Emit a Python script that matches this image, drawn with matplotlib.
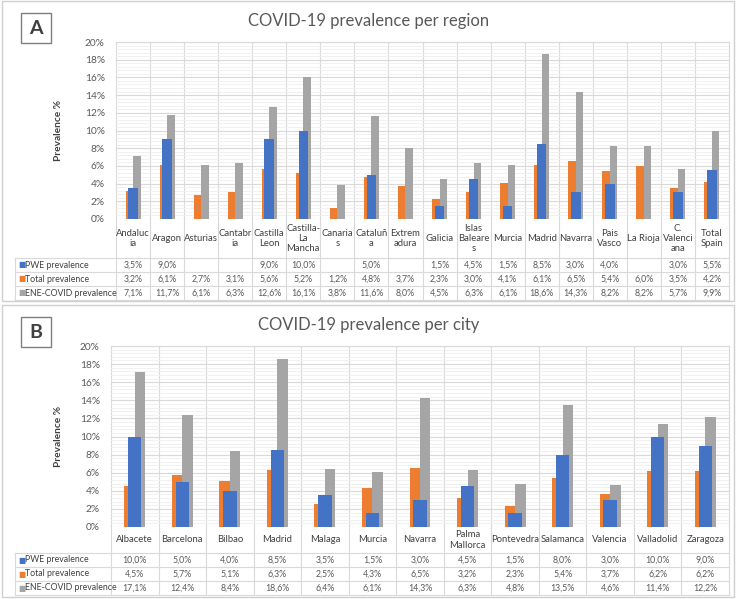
import numpy as np
import matplotlib
matplotlib.use("Agg")
import matplotlib.pyplot as plt
import matplotlib.transforms as mtransforms
from matplotlib.patches import Rectangle

plt.rcParams['font.family'] = ['Lato', 'DejaVu Sans']

# ---- data: panel A (regions) ----
regions = ["Andalucia", "Aragon", "Asturias", "Cantabria", "Castilla Leon",
           "Castilla-La Mancha", "Canarias", "Cataluña", "Extremadura", "Galicia",
           "Islas Baleares", "Murcia", "Madrid", "Navarra", "Pais Vasco",
           "La Rioja", "C. Valenciana", "Total Spain"]
region_labels = ["Andaluc\nia", "Aragon", "Asturias", "Cantabr\nia", "Castilla\nLeon",
                 "Castilla-\nLa\nMancha", "Canaria\ns", "Cataluñ\na", "Extrem\nadura",
                 "Galicia", "Islas\nBaleare\ns", "Murcia", "Madrid", "Navarra",
                 "Pais\nVasco", "La Rioja", "C.\nValenci\nana", "Total\nSpain"]
pwe_region = [3.5, 9.0, np.nan, np.nan, 9.0, 10.0, np.nan, 5.0, np.nan, 1.5,
              4.5, 1.5, 8.5, 3.0, 4.0, np.nan, 3.0, 5.5]
total_region = [3.2, 6.1, 2.7, 3.1, 5.6, 5.2, 1.2, 4.8, 3.7, 2.3,
                3.0, 4.1, 6.1, 6.5, 5.4, 6.0, 3.5, 4.2]
ene_region = [7.1, 11.7, 6.1, 6.3, 12.6, 16.1, 3.8, 11.6, 8.0, 4.5,
              6.3, 6.1, 18.6, 14.3, 8.2, 8.2, 5.7, 9.9]

# ---- data: panel B (cities) ----
cities = ["Albacete", "Barcelona", "Bilbao", "Madrid", "Malaga", "Murcia", "Navarra",
          "Palma Mallorca", "Pontevedra", "Salamanca", "Valencia", "Valladolid", "Zaragoza"]
city_labels = ["Albacete", "Barcelona", "Bilbao", "Madrid", "Malaga", "Murcia", "Navarra",
               "Palma\nMallorca", "Pontevedra", "Salamanca", "Valencia", "Valladolid", "Zaragoza"]
pwe_city = [10.0, 5.0, 4.0, 8.5, 3.5, 1.5, 3.0, 4.5, 1.5, 8.0, 3.0, 10.0, 9.0]
total_city = [4.5, 5.7, 5.1, 6.3, 2.5, 4.3, 6.5, 3.2, 2.3, 5.4, 3.7, 6.2, 6.2]
ene_city = [17.1, 12.4, 8.4, 18.6, 6.4, 6.1, 14.3, 6.3, 4.8, 13.5, 4.6, 11.4, 12.2]

series_names = ["PWE prevalence", "Total prevalence", "ENE-COVID prevalence"]
ORANGE, BLUE, GRAY = "#ED7D31", "#4472C4", "#A5A5A5"
GRID = "#d9d9d9"
TXT = "#595959"
FS_TAB = 6.3

W, H = 739, 599
fig = plt.figure(figsize=(W / 100, H / 100), dpi=100)


def fx(px):
    return px / W


def fy(py):
    return 1 - py / H


def fmt(v):
    if np.isnan(v):
        return ""
    return f"{v:.1f}%".replace(".", ",")


def panel(box, plot, rows, labels, pwe, tot, ene, title, letter, title_y, ylab_x):
    # panel frame
    x0, y0, x1, y1 = box
    fig.patches.append(Rectangle((fx(x0), fy(y1)), fx(x1) - fx(x0), fy(y0) - fy(y1),
                                 transform=fig.transFigure, fill=False,
                                 edgecolor="#d0d0d0", lw=1.0))
    # letter box
    lx = x0 + 19
    ly = y0 + 12
    fig.patches.append(Rectangle((fx(lx), fy(ly + 30)), fx(30), 30 / H,
                                 transform=fig.transFigure, fill=False,
                                 edgecolor="#7f7f7f", lw=1.0))
    fig.text(fx(lx + 15), fy(ly + 15), letter, ha="center", va="center",
             fontsize=14, fontweight="bold", color="#404040")
    fig.text(fx(369), fy(title_y), title, ha="center", va="center",
             fontsize=12, color=TXT)

    left, top, right, bottom = plot
    ax = fig.add_axes([fx(left), fy(bottom), fx(right) - fx(left), (bottom - top) / H])
    n = len(labels)
    x = np.arange(n)
    ax.bar(x - 0.11, tot, 0.22, color=ORANGE, zorder=2)
    ax.bar(x + 0.11, ene, 0.22, color=GRAY, zorder=2)
    ax.bar(x, pwe, 0.28, color=BLUE, zorder=3)

    ax.set_xlim(-0.5, n - 0.5)
    ax.set_ylim(0, 20)
    ax.set_yticks(np.arange(0, 21, 2))
    ax.set_yticks(np.arange(0, 20.01, 0.4), minor=True)
    ax.set_yticklabels([f"{int(v)}%" for v in np.arange(0, 21, 2)], fontsize=7.3, color=TXT)
    ax.tick_params(axis="y", which="both", length=0, pad=8)
    ax.set_xticks([])
    ax.grid(axis="y", which="minor", color="#efefef", lw=0.6, zorder=0)
    ax.grid(axis="y", which="major", color=GRID, lw=0.8, zorder=0)
    for s in ax.spines.values():
        s.set_visible(False)
    ax.set_ylabel("Prevalence %", fontsize=7.3, fontweight="bold", color="#404040")
    ax.yaxis.set_label_coords((ylab_x - left) / (right - left), 0.5)

    ph = bottom - top

    def ay(py):
        return (bottom - py) / ph

    trans = mtransforms.blended_transform_factory(ax.transData, ax.transAxes)
    rtop = rows[0]
    rlines = rows[1:]
    tbot = rlines[-1]
    # vertical category lines through the table
    for b in np.arange(n + 1) - 0.5:
        ax.plot([b, b], [1, ay(tbot)], transform=trans, color=GRID, lw=0.8,
                clip_on=False, zorder=1)
    ax.plot([-0.5, n - 0.5], [1, 1], transform=trans, color=GRID, lw=0.8, clip_on=False)
    # horizontal table lines
    ftrans = mtransforms.blended_transform_factory(fig.transFigure, ax.transAxes)
    for r in rlines:
        ax.plot([fx(15), fx(right)], [ay(r), ay(r)], transform=ftrans, color=GRID,
                lw=0.8, clip_on=False)
    ax.plot([fx(15), fx(15)], [ay(rlines[0]), ay(tbot)], transform=ftrans,
            color=GRID, lw=0.8, clip_on=False)
    # category names
    for i, lab in enumerate(labels):
        ax.text(i, ay((rtop + rlines[0]) / 2), lab, transform=trans, ha="center",
                va="center", fontsize=6.8, color="#404040", linespacing=1.2)
    # value rows
    colors = [BLUE, ORANGE, GRAY]
    for k, vals in enumerate([pwe, tot, ene]):
        yc = ay((rlines[k] + rlines[k + 1]) / 2)
        ax.text(fx(18), yc, "\u25A0", transform=ftrans, ha="left", va="center",
                fontsize=5.5, color=colors[k], family="DejaVu Sans")
        ax.text(fx(25), yc, series_names[k], transform=ftrans, ha="left",
                va="center", fontsize=FS_TAB, color="#404040")
        for i, v in enumerate(vals):
            ax.text(i, yc, fmt(v), transform=trans, ha="center", va="center",
                    fontsize=FS_TAB, color=TXT)
    return ax


panel((2, 1, 734, 301), (116, 42, 729, 219), (219, 258, 272, 286, 300),
      region_labels, pwe_region, total_region, ene_region,
      "COVID-19 prevalence per region", "A", 21, 63)
panel((2, 305, 734, 597), (111, 346, 729, 527), (527, 553, 567, 581, 595),
      city_labels, pwe_city, total_city, ene_city,
      "COVID-19 prevalence per city", "B", 325, 63)

fig.savefig("out.png", dpi=100)
